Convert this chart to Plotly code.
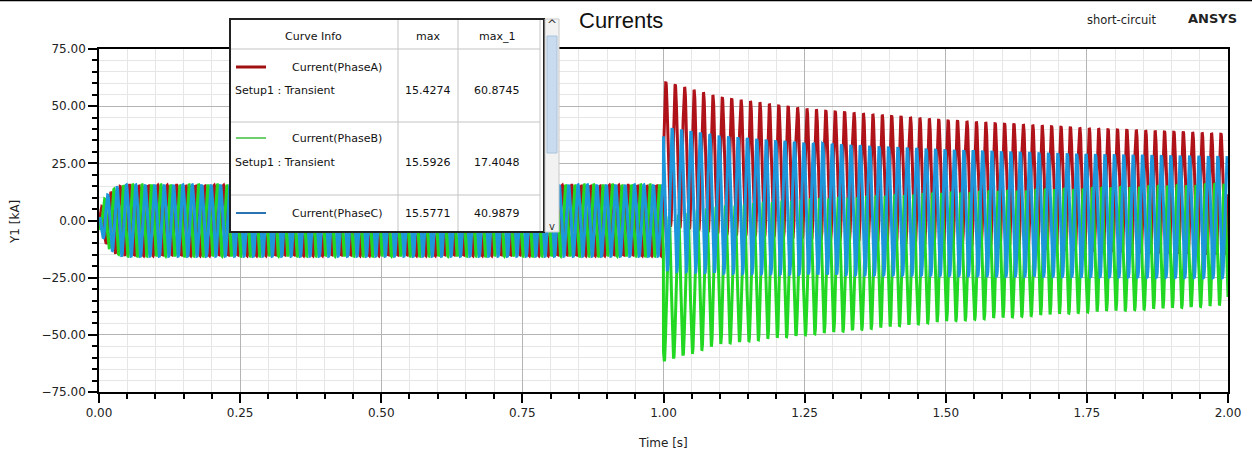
import numpy as np
import plotly.graph_objects as go

# ---------------- data ----------------
phase_names = ["Current(PhaseA)", "Current(PhaseB)", "Current(PhaseC)"]
phase_colors = ["#b0121a", "#22d822", "#1d97dc"]
legend_colors = ["#a01010", "#3cc03c", "#2a74b4"]
col_max = ["15.4274", "15.5926", "15.5771"]
col_max_1 = ["60.8745", "17.4048", "40.9879"]

freq_hz = 60.0
phase_deg = [0.0, -120.0, 120.0]

# start-up envelope (fraction of steady peak)
ramp_t = [0.0, 0.003, 0.006, 0.01, 0.015, 0.02, 0.03, 0.04, 0.05, 0.9999]
ramp_frac = [0.0, 0.32, 0.46, 0.60, 0.71, 0.80, 0.92, 0.98, 1.0, 1.0]
steady_peak = [15.4274, 15.5926, 15.5771]

# post-fault envelopes (upper / lower), kA
fault_t = [1.0, 1.1, 1.25, 1.5, 1.75, 2.0]
upper_A = [60.9, 54.0, 49.0, 44.0, 40.5, 38.0]
lower_A = [-2.0, -6.0, -8.0, -11.0, -13.5, -15.0]
upper_B = [1.3, 6.0, 9.0, 12.0, 14.0, 16.0]
lower_B = [-61.7, -54.0, -50.0, -44.0, -40.0, -37.0]
upper_C = [41.0, 37.0, 34.0, 31.0, 29.0, 28.0]
lower_C = [-22.0, -23.0, -23.5, -24.0, -24.5, -25.0]
uppers = [upper_A, upper_B, upper_C]
lowers = [lower_A, lower_B, lower_C]

W, H = 1252, 455
L, R, T, B = 99, 24, 49, 63
PW, PH = W - L - R, H - T - B


def px(x):
    return (x - L) / PW


def py(y):
    return (H - B - y) / PH


t = np.linspace(0.0, 2.0, 2 * 60 * 80 + 1)

fig = go.Figure()
for k in range(3):
    env_t = ramp_t + fault_t
    up = [steady_peak[k] * f for f in ramp_frac] + uppers[k]
    lo = [-steady_peak[k] * f for f in ramp_frac] + lowers[k]
    u = np.interp(t, env_t, up)
    l = np.interp(t, env_t, lo)
    mid = (u + l) / 2
    half = (u - l) / 2
    y = mid + half * np.sin(2 * np.pi * freq_hz * t + np.deg2rad(phase_deg[k]))
    fig.add_trace(go.Scatter(x=t, y=y, mode="lines", name=phase_names[k],
                             line=dict(color=phase_colors[k], width=3),
                             hoverinfo="skip", showlegend=False))

font = "Liberation Sans, Arial, sans-serif"
wide = "DejaVu Sans, Verdana, sans-serif"
axis_common = dict(showline=True, mirror=True, linecolor="black", linewidth=1.5,
                   ticks="outside", ticklen=9, tickwidth=1.5, tickcolor="black",
                   showgrid=True, gridcolor="#b4b4b4", gridwidth=1, zeroline=False,
                   tickformat=".2f", tickfont=dict(family=wide, size=12, color="#222"))

fig.update_layout(
    width=W, height=H, margin=dict(l=L, r=R, t=T, b=B),
    paper_bgcolor="white", plot_bgcolor="white",
    xaxis=dict(range=[0, 2], dtick=0.25, tick0=0,
               minor=dict(dtick=0.05, ticklen=5, tickwidth=2, tickcolor="black",
                          showgrid=True, gridcolor="#e6e6e6"),
               **axis_common),
    yaxis=dict(range=[-75, 75], dtick=25, tick0=0,
               minor=dict(dtick=5, ticklen=5, tickwidth=2, tickcolor="black",
                          showgrid=True, gridcolor="#e6e6e6"),
               **axis_common),
    font=dict(family=font, color="#222"),
)

shapes = []
annos = []
# top border line of screenshot
shapes.append(dict(type="line", xref="paper", yref="paper", x0=px(0), x1=px(W),
                   y0=py(0.5), y1=py(0.5), line=dict(color="black", width=1.5)))


def note(s, x, y, size, anchor="center", angle=0, color="#222", fam=wide):
    annos.append(dict(text=s, x=px(x), y=py(y), xref="paper", yref="paper",
                      showarrow=False, xanchor=anchor, yanchor="middle",
                      textangle=angle,
                      font=dict(size=size, family=fam, color=color)))


# titles
note("Currents", 621, 21, 22, color="#111", fam=font)
note("short-circuit", 1122, 20, 11.5)
note("<b>ANSYS</b>", 1212, 18, 13)
note("Time [s]", 663, 443, 12)
note("Y1 [kA]", 15, 222, 12, angle=-90)

# legend table
shapes.append(dict(type="rect", xref="paper", yref="paper", x0=px(230), x1=px(544),
                   y0=py(232), y1=py(19), fillcolor="white",
                   line=dict(color="#222", width=2)))
for xs in [398, 458, 540]:
    shapes.append(dict(type="line", xref="paper", yref="paper", x0=px(xs), x1=px(xs),
                       y0=py(231), y1=py(20), line=dict(color="#c4c4c4", width=1)))
for ys in [49, 122, 195]:
    shapes.append(dict(type="line", xref="paper", yref="paper", x0=px(231), x1=px(540),
                       y0=py(ys), y1=py(ys), line=dict(color="#c4c4c4", width=1)))
# scrollbar
shapes.append(dict(type="rect", xref="paper", yref="paper", x0=px(545), x1=px(559),
                   y0=py(232), y1=py(19), fillcolor="#f2f2f2",
                   line=dict(color="#c8c8c8", width=1)))
shapes.append(dict(type="rect", xref="paper", yref="paper", x0=px(547), x1=px(557),
                   y0=py(153), y1=py(36), fillcolor="#c9dcef",
                   line=dict(color="#a9c2dc", width=1)))
note("^", 552, 25, 12, color="#333")
note("v", 552, 226, 10, color="#333")

fs = 11
note("Curve Info", 313, 37, fs, color="#111")
note("max", 428, 37, fs, color="#111")
note("max_1", 497, 37, fs, color="#111")
row_line_y = [67, 138, 213]
row_val_y = [90, 162, 213]
line_w = [3, 1.5, 2]
for k in range(3):
    shapes.append(dict(type="line", xref="paper", yref="paper", x0=px(236), x1=px(266),
                       y0=py(row_line_y[k]), y1=py(row_line_y[k]),
                       line=dict(color=legend_colors[k], width=line_w[k])))
    note(phase_names[k], 337, row_line_y[k], fs, color="#111")
    if k < 2:
        note("Setup1 : Transient", 233, row_val_y[k], fs, anchor="left", color="#111")
    note(col_max[k], 428, row_val_y[k], fs, color="#111")
    note(col_max_1[k], 497, row_val_y[k], fs, color="#111")

fig.update_layout(shapes=shapes, annotations=annos)
fig.write_html("out.html")
